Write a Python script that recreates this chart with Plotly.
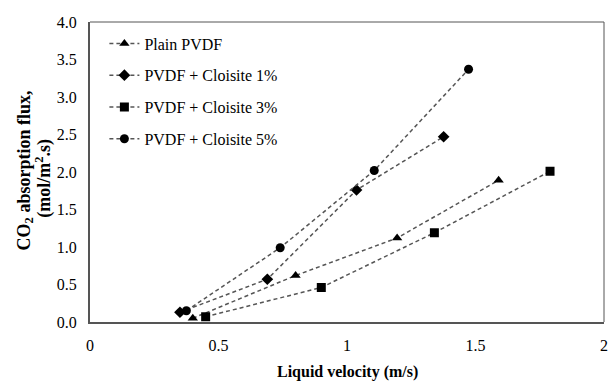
import plotly.graph_objects as go

# Data
plain_x = [0.40, 0.80, 1.195, 1.59]
plain_y = [0.05, 0.62, 1.12, 1.89]

c1_x = [0.35, 0.69, 1.037, 1.376]
c1_y = [0.13, 0.57, 1.76, 2.47]

c3_x = [0.45, 0.90, 1.34, 1.79]
c3_y = [0.07, 0.46, 1.19, 2.01]

c5_x = [0.375, 0.74, 1.106, 1.473]
c5_y = [0.15, 0.99, 2.02, 3.37]

names = ["Plain PVDF", "PVDF + Cloisite 1%", "PVDF + Cloisite 3%", "PVDF + Cloisite 5%"]
symbols = ["triangle-up", "diamond", "square", "circle"]
sizes = [9, 9, 9, 9]

xs = [plain_x, c1_x, c3_x, c5_x]
ys = [plain_y, c1_y, c3_y, c5_y]

x_ticks = [0, 0.5, 1, 1.5, 2]
x_tick_text = ["0", "0.5", "1", "1.5", "2"]
y_ticks = [0.0, 0.5, 1.0, 1.5, 2.0, 2.5, 3.0, 3.5, 4.0]
y_tick_text = ["0.0", "0.5", "1.0", "1.5", "2.0", "2.5", "3.0", "3.5", "4.0"]

FONT = "Times New Roman, Liberation Serif, serif"

fig = go.Figure()
for i in range(4):
    fig.add_trace(go.Scatter(
        x=xs[i], y=ys[i], name=names[i], mode="lines+markers",
        line=dict(color="#555555", width=1.5, dash="4px,3px"),
        marker=dict(symbol=symbols[i], size=sizes[i], color="black"),
        legendgroup=f"g{i}",
    ))

fig.update_layout(
    width=610, height=384,
    margin=dict(l=90, r=2, t=22, b=62),
    paper_bgcolor="white", plot_bgcolor="white",
    font=dict(family=FONT, size=16, color="black"),
    showlegend=True,
    legend=dict(
        x=0.028, y=0.985, xanchor="left", yanchor="top",
        bgcolor="rgba(0,0,0,0)", font=dict(family=FONT, size=16, color="black"),
        traceorder="grouped", tracegroupgap=8,
    ),
    xaxis=dict(
        range=[0, 2], tickvals=x_ticks, ticktext=x_tick_text,
        showgrid=False, zeroline=False, showline=True,
        linecolor="#555555", linewidth=2, mirror=False,
        ticks="outside", ticklen=8, tickcolor="rgba(0,0,0,0)",
        ticklabeloverflow="allow",
        tickfont=dict(family=FONT, size=16, color="black"),
    ),
    yaxis=dict(
        range=[0, 4], tickvals=y_ticks, ticktext=y_tick_text,
        showgrid=False, zeroline=False, showline=True,
        linecolor="#555555", linewidth=2, mirror=False,
        ticks="outside", ticklen=8, tickcolor="rgba(0,0,0,0)",
        tickfont=dict(family=FONT, size=16, color="black"),
    ),
    shapes=[
        dict(type="line", xref="paper", yref="paper", x0=0, x1=1, y0=1, y1=1,
             line=dict(color="#555555", width=1)),
        dict(type="line", xref="paper", yref="paper", x0=1, x1=1, y0=0, y1=1,
             line=dict(color="#555555", width=1)),
    ],
    annotations=[
        dict(text="<b>CO<sub>2</sub> absorption flux,</b>",
             xref="paper", yref="paper", x=-0.1255, y=0.507, textangle=-90,
             xanchor="center", yanchor="middle", showarrow=False,
             font=dict(family=FONT, size=18, color="black")),
        dict(text="<b>(mol/m<sup>2</sup>.s)</b>",
             xref="paper", yref="paper", x=-0.09, y=0.48, textangle=-90,
             xanchor="center", yanchor="middle", showarrow=False,
             font=dict(family=FONT, size=18, color="black")),
        dict(text="<b>Liquid velocity (m/s)</b>",
             xref="paper", yref="paper", x=0.5, y=-0.168,
             xanchor="center", yanchor="middle", showarrow=False,
             font=dict(family=FONT, size=16, color="black")),
    ],
)

fig.write_html("out.html")
